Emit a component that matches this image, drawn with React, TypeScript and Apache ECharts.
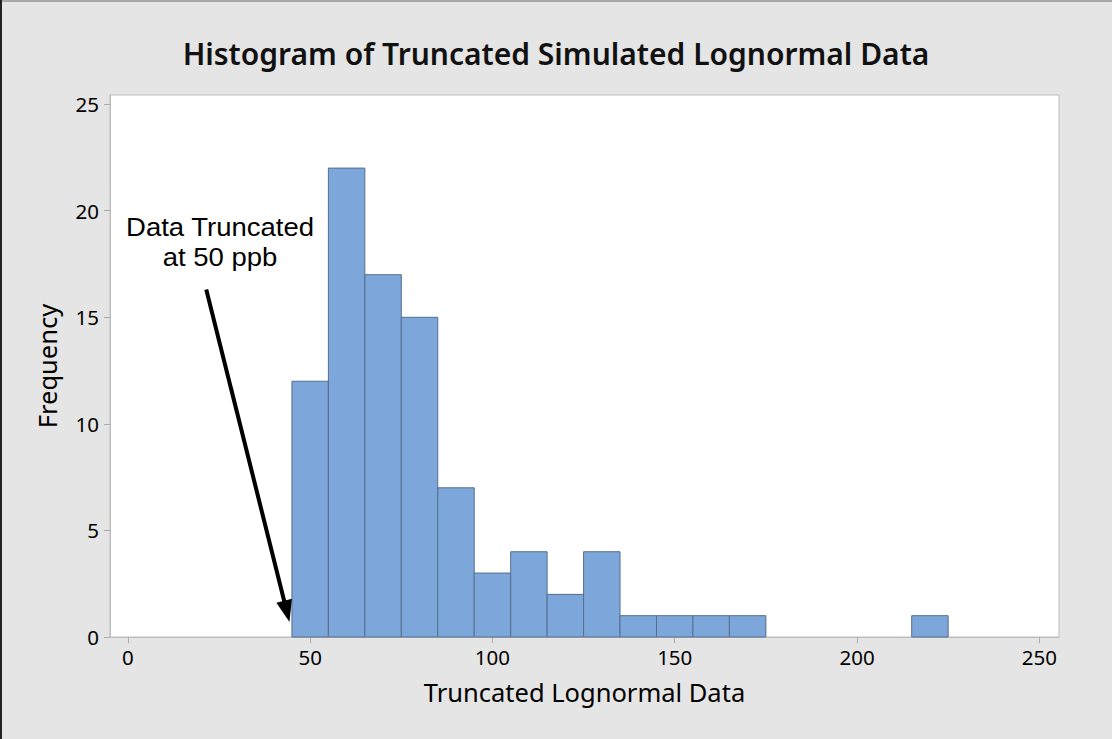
import React, { useEffect, useRef } from "react";
import * as echarts from "echarts";

// Histogram bins (lower edge, upper edge) and frequencies
const binStarts = [45, 55, 65, 75, 85, 95, 105, 115, 125, 135, 145, 155, 165, 175, 185, 195, 205, 215];
const binWidth = 10;
const counts = [12, 22, 17, 15, 7, 3, 4, 2, 4, 1, 1, 1, 1, 0, 0, 0, 0, 1];
const xTicks = [0, 50, 100, 150, 200, 250];
const yTicks = [0, 5, 10, 15, 20, 25];
// Annotation arrow (data coords: start -> tip)
const arrowStart = [21.5, 16.3];
const arrowEnd = [43.6, 1.2];

const TITLE = "Histogram of Truncated Simulated Lognormal Data";
const X_NAME = "Truncated Lognormal Data";
const Y_NAME = "Frequency";
const NOTE = "Data Truncated\nat 50 ppb";

export default function App() {
  const ref = useRef<HTMLDivElement>(null);
  useEffect(() => {
    if (!ref.current) return;
    const chart = echarts.init(ref.current, undefined, { renderer: "svg" });
    const data = binStarts
      .map((s, i) => [s, s + binWidth, counts[i]])
      .filter((d) => d[2] > 0);
    const font = "'Noto Sans', 'Open Sans', sans-serif";
    chart.setOption({
      animation: false,
      backgroundColor: "#e5e5e5",
      title: {
        text: TITLE,
        left: "center",
        top: 33,
        textStyle: { fontFamily: font, fontSize: 30, fontWeight: 600, color: "#111" },
      },
      grid: {
        left: 110,
        right: 53,
        top: 95,
        bottom: 102,
        show: true,
        backgroundColor: "#ffffff",
        borderColor: "#bdbdbd",
        borderWidth: 1,
      },
      xAxis: {
        type: "value",
        min: -4.9,
        max: 255.4,
        name: X_NAME,
        nameLocation: "middle",
        nameGap: 42,
        nameTextStyle: { fontFamily: font, fontSize: 25.5, color: "#000" },
        axisLine: { show: true, onZero: false, lineStyle: { color: "#bdbdbd" } },
        axisTick: { show: true, customValues: xTicks, length: 6, lineStyle: { color: "#aaaaaa" } },
        axisLabel: { customValues: xTicks, margin: 9, fontFamily: font, fontSize: 20.5, color: "#000" },
        splitLine: { show: false },
      },
      yAxis: {
        type: "value",
        min: 0,
        max: 25.43,
        name: Y_NAME,
        nameLocation: "middle",
        nameGap: 50,
        nameTextStyle: { fontFamily: font, fontSize: 25.5, color: "#000" },
        axisLine: { show: true, onZero: false, lineStyle: { color: "#bdbdbd" } },
        axisTick: { show: true, customValues: yTicks, length: 6, lineStyle: { color: "#aaaaaa" } },
        axisLabel: { customValues: yTicks, margin: 11, fontFamily: font, fontSize: 20.5, color: "#000" },
        splitLine: { show: false },
      },
      series: [
        {
          type: "custom",
          data,
          encode: { x: [0, 1], y: 2 },
          renderItem: (params: any, api: any) => {
            const p1 = api.coord([api.value(0), api.value(2)]);
            const p2 = api.coord([api.value(1), 0]);
            return {
              type: "rect",
              shape: { x: p1[0], y: p1[1], width: p2[0] - p1[0], height: p2[1] - p1[1] },
              style: { fill: "#7da7da", stroke: "#566e8c", lineWidth: 1 },
            };
          },
        },
        {
          type: "line",
          data: [],
          silent: true,
          markLine: {
            silent: true,
            symbol: ["none", "triangle"],
            symbolSize: [16, 22],
            label: { show: false },
            lineStyle: { color: "#000", width: 4, type: "solid" },
            itemStyle: { color: "#000" },
            data: [[{ coord: arrowStart }, { coord: arrowEnd }]],
          },
        },
      ],
      graphic: [
        {
          type: "text",
          x: 220,
          y: 212,
          scaleX: 1.1,
          style: {
            text: NOTE,
            fontFamily: "'Liberation Sans', Arial, sans-serif",
            fontSize: 25,
            lineHeight: 30,
            fill: "#000",
            align: "center",
          },
        },
        { type: "line", shape: { x1: 0, y1: 1, x2: 1112, y2: 1 }, style: { stroke: "#a8a8a8", lineWidth: 2 } },
        { type: "line", shape: { x1: 1, y1: 0, x2: 1, y2: 739 }, style: { stroke: "#222", lineWidth: 2 } },
      ],
    });
    return () => chart.dispose();
  }, []);
  return (
    <div
      ref={ref}
      style={{ position: "fixed", left: 0, top: 0, width: 1112, height: 739 }}
    />
  );
}
